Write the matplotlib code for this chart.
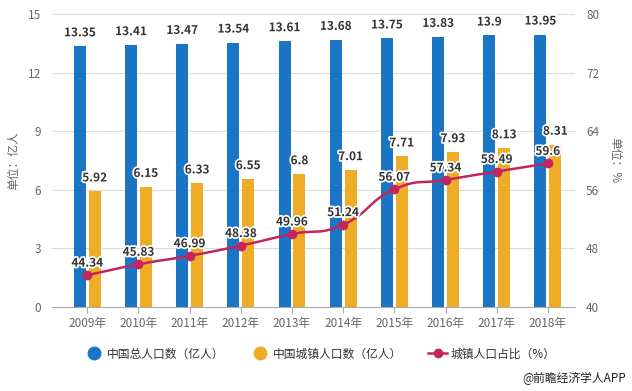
import matplotlib.pyplot as plt
import matplotlib.patheffects as pe
from matplotlib.path import Path
from matplotlib.patches import PathPatch
import numpy as np

plt.rcParams['font.family'] = ['Noto Sans CJK SC', 'DejaVu Sans']

# data
years = ['2009年', '2010年', '2011年', '2012年', '2013年',
         '2014年', '2015年', '2016年', '2017年', '2018年']
total_pop = [13.35, 13.41, 13.47, 13.54, 13.61, 13.68, 13.75, 13.83, 13.9, 13.95]
urban_pop = [5.92, 6.15, 6.33, 6.55, 6.8, 7.01, 7.71, 7.93, 8.13, 8.31]
urban_ratio = [44.34, 45.83, 46.99, 48.38, 49.96, 51.24, 56.07, 57.34, 58.49, 59.6]
left_ticks = [0, 3, 6, 9, 12, 15]
right_ticks = [40, 48, 56, 64, 72, 80]

blue = '#1a75c4'
orange = '#efac27'
pink = '#c2255f'
grey = '#666666'

W, H = 632, 391
fig = plt.figure(figsize=(W / 100, H / 100), dpi=100)
ax = fig.add_axes([52 / W, 1 - 307 / H, (575 - 52) / W, (307 - 14) / H])
ax2 = ax.twinx()

x = np.arange(len(years))
bw = 0.235
off = 0.145

outline = [pe.withStroke(linewidth=2.5, foreground='white')]

ax.bar(x - off, total_pop, bw, color=blue, zorder=2)
ax.bar(x + off, urban_pop, bw, color=orange, zorder=2)
for i, v in enumerate(total_pop):
    ax.annotate(f'{v:g}', (x[i] - off, v), xytext=(0, 5), textcoords='offset points',
                ha='center', va='bottom', fontsize=8.5, fontweight='bold',
                color='#333333', path_effects=outline, zorder=5)
for i, v in enumerate(urban_pop):
    ax.annotate(f'{v:g}', (x[i] + off, v), xytext=(0, 5), textcoords='offset points',
                ha='center', va='bottom', fontsize=8.5, fontweight='bold',
                color='#333333', path_effects=outline, zorder=5)

ax.set_xlim(-0.69, 9.53)
ax.set_ylim(0, 15)
ax.set_yticks(left_ticks)
ax.set_xticks(x)
ax.set_xticklabels(years)
ax.grid(axis='y', color='#dddddd', linewidth=0.8, zorder=0)
ax.set_axisbelow(True)
for s in ['top', 'right', 'left']:
    ax.spines[s].set_visible(False)
ax.spines['bottom'].set_color('#aaaaaa')
ax.tick_params(axis='y', length=0, labelsize=8.5, labelcolor=grey, pad=8)
ax.tick_params(axis='x', length=4, color='#aaaaaa', labelsize=8.5, labelcolor=grey, pad=3)
ax.set_ylabel('单位：亿人', fontsize=8.5, color=grey, va='center')
ax.yaxis.set_label_coords(-0.073, 0.5)

# smoothed line (bezier through the points)
pts = np.column_stack([x, urban_ratio]).astype(float)
verts = [pts[0]]
codes = [Path.MOVETO]
k = 0.25
for i in range(len(pts) - 1):
    p0 = pts[i - 1] if i > 0 else pts[i]
    p1, p2 = pts[i], pts[i + 1]
    p3 = pts[i + 2] if i + 2 < len(pts) else pts[i + 1]
    verts += [p1 + (p2 - p0) * k, p2 - (p3 - p1) * k, p2]
    codes += [Path.CURVE4] * 3
ax2.add_patch(PathPatch(Path(verts, codes), facecolor='none', edgecolor=pink,
                        linewidth=1.8, zorder=4))
ax2.plot(x, urban_ratio, linestyle='none', color=pink, marker='o', markersize=6, zorder=4)
for i, v in enumerate(urban_ratio):
    ax2.annotate(f'{v:g}', (x[i], v), xytext=(0, 4), textcoords='offset points',
                 ha='center', va='bottom', fontsize=8.5, fontweight='bold',
                 color='#333333', path_effects=outline, zorder=6)
ax2.set_ylim(40, 80)
ax2.set_yticks(right_ticks)
for s in ['top', 'right', 'left', 'bottom']:
    ax2.spines[s].set_visible(False)
ax2.tick_params(axis='y', length=0, labelsize=8.5, labelcolor=grey, pad=8)
ax2.set_ylabel('单位：%', fontsize=8.5, color=grey, rotation=270, va='center')
ax2.yaxis.set_label_coords(1.076, 0.5)

# legend
h1 = plt.Line2D([], [], linestyle='none', marker='o', markersize=9, color=blue)
h2 = plt.Line2D([], [], linestyle='none', marker='o', markersize=9, color=orange)
h3 = plt.Line2D([], [], color=pink, linewidth=1.8, marker='o', markersize=6)
fig.legend([h1, h2, h3], ['中国总人口数（亿人）', '中国城镇人口数（亿人）', '城镇人口占比（%）'],
           loc='center', bbox_to_anchor=(320 / W, 1 - 354 / H), ncol=3, frameon=False,
           fontsize=8.5, handletextpad=0.3, columnspacing=2.2, labelcolor='#333333',
           handlelength=1.6)

fig.text(626 / W, 1 - 378 / H, '@前瞻经济学人APP', ha='right', va='center',
         fontsize=8.5, color='#222222')

fig.savefig('out.png', dpi=100)
